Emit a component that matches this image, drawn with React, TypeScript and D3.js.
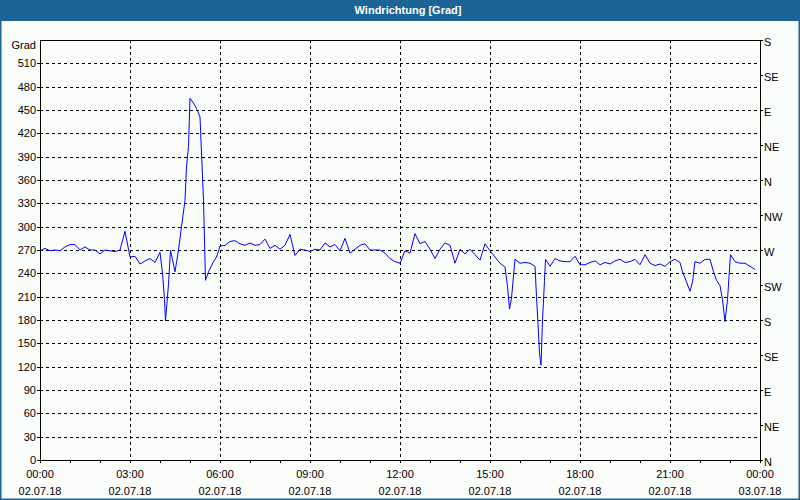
import React from "react";
import * as d3 from "d3";

// time in minutes since 00:00 on 02.07.18, wind direction in degrees
const times: number[] = [
  0, 10, 20, 30, 40, 50, 60, 70, 80, 90, 100, 110, 120, 130, 140, 150, 160, 170, 180, 190,
  200, 210, 220, 230, 240, 245, 249, 251, 257, 261, 270, 277, 283, 290, 293, 297, 300, 307, 313, 320,
  327, 331, 337, 347, 353, 360, 370, 380, 390, 400, 410, 420, 430, 440, 450, 460, 470, 480, 490, 500,
  510, 520, 530, 540, 550, 560, 570, 580, 590, 600, 610, 620, 630, 640, 650, 660, 670, 680, 690, 700,
  710, 720, 730, 740, 750, 760, 770, 780, 790, 800, 810, 820, 830, 840, 850, 860, 870, 880, 890, 900,
  910, 920, 930, 935, 939, 943, 950, 960, 970, 980, 990, 993, 997, 999, 1002, 1005, 1009, 1011, 1020, 1030,
  1040, 1050, 1060, 1070, 1080, 1090, 1100, 1110, 1120, 1130, 1140, 1150, 1160, 1170, 1180, 1190, 1200, 1210, 1220, 1230,
  1240, 1250, 1260, 1270, 1280, 1285, 1293, 1300, 1305, 1310, 1320, 1330, 1340, 1347, 1353, 1360, 1365, 1370, 1375, 1378,
  1381, 1390, 1400, 1410, 1420, 1430,
];
const degrees: number[] = [
  269, 272, 269, 270, 269, 274, 277, 277, 270, 274, 270, 270, 265, 270, 269, 268, 270, 294, 261, 262,
  252, 256, 259, 254, 267, 240, 206, 179, 226, 270, 242, 270, 300, 334, 377, 403, 465, 459, 452, 441,
  334, 231, 242, 255, 261, 275, 276, 281, 282, 278, 276, 279, 276, 277, 284, 272, 276, 271, 276, 290,
  263, 271, 270, 268, 271, 270, 279, 274, 277, 269, 285, 266, 271, 276, 278, 270, 270, 270, 266, 259,
  255, 253, 269, 266, 291, 278, 281, 271, 259, 271, 279, 276, 253, 271, 265, 271, 264, 257, 278, 269,
  261, 253, 248, 223, 194, 208, 258, 253, 254, 253, 249, 210, 163, 137, 122, 180, 231, 258, 249, 259,
  256, 255, 255, 262, 251, 251, 254, 256, 251, 254, 252, 256, 258, 254, 255, 258, 251, 264, 253, 250,
  252, 249, 255, 258, 254, 242, 229, 217, 229, 255, 253, 258, 258, 242, 231, 224, 206, 178, 206, 236,
  264, 255, 253, 253, 249, 245,
];

const leftTicks: number[] = [0, 30, 60, 90, 120, 150, 180, 210, 240, 270, 300, 330, 360, 390, 420, 450, 480, 510];
const rightTicks: number[] = [0, 45, 90, 135, 180, 225, 270, 315, 360, 405, 450, 495, 540];
const rightLabels: string[] = ["N", "NE", "E", "SE", "S", "SW", "W", "NW", "N", "NE", "E", "SE", "S"];
const timeTicks: number[] = [0, 3, 6, 9, 12, 15, 18, 21, 24];
const timeLabels: string[] = ["00:00", "03:00", "06:00", "09:00", "12:00", "15:00", "18:00", "21:00", "00:00"];
const dateLabels: string[] = ["02.07.18", "02.07.18", "02.07.18", "02.07.18", "02.07.18", "02.07.18", "02.07.18", "02.07.18", "03.07.18"];
const title = "Windrichtung [Grad]";
const unitLabel = "Grad";

const W = 800;
const H = 500;
const left = 40;
const right = 760;
const top = 40;
const bottom = 460;
const FONT = "'Liberation Sans', Arial, sans-serif";
const BLUE = "#1c6496";

export default function App() {
  const x = d3.scaleLinear().domain([0, 24]).range([left, right]);
  const y = d3.scaleLinear().domain([0, 540]).range([bottom, top]);
  const hours = d3.range(0, 25);
  const pts: [number, number][] = times.map((t, i) => [t / 60, degrees[i]]);
  const line = d3
    .line<[number, number]>()
    .x((d) => x(d[0]))
    .y((d) => y(d[1]));

  return (
    <svg
      width={W}
      height={H}
      style={{ position: "fixed", left: 0, top: 0, display: "block" }}
      fontFamily={FONT}
      fontSize={11}
    >
      <rect x={0} y={0} width={W} height={H} fill="#fbfdfb" />
      <rect x={0.5} y={0.5} width={W - 1} height={H - 1} fill="none" stroke={BLUE} strokeWidth={2} />
      <rect x={0} y={0} width={W} height={21} fill={BLUE} />
      <text x={W / 2 + 8} y={14} textAnchor="middle" fill="#ffffff" fontWeight="bold" fontSize={11}>
        {title}
      </text>

      {/* horizontal grid */}
      {leftTicks
        .filter((v) => v > 0)
        .map((v) => (
          <line
            key={"h" + v}
            x1={left}
            x2={right}
            y1={Math.round(y(v)) + 0.5}
            y2={Math.round(y(v)) + 0.5}
            stroke="#000"
            strokeDasharray="3,3"
            shapeRendering="crispEdges"
          />
        ))}
      {/* vertical grid */}
      {timeTicks
        .filter((h) => h > 0 && h < 24)
        .map((h) => (
          <line
            key={"v" + h}
            x1={Math.round(x(h)) + 0.5}
            x2={Math.round(x(h)) + 0.5}
            y1={top}
            y2={bottom}
            stroke="#000"
            strokeDasharray="3,3"
            shapeRendering="crispEdges"
          />
        ))}

      {/* frame */}
      <rect
        x={left + 0.5}
        y={top + 0.5}
        width={right - left}
        height={bottom - top}
        fill="none"
        stroke="#000"
        shapeRendering="crispEdges"
      />

      {/* left axis */}
      {leftTicks.map((v) => (
        <g key={"l" + v}>
          <line x1={left - 3} x2={left} y1={Math.round(y(v)) + 0.5} y2={Math.round(y(v)) + 0.5} stroke="#000" shapeRendering="crispEdges" />
          <text x={left - 4} y={y(v) + 4} textAnchor="end" fill="#000">
            {v}
          </text>
        </g>
      ))}
      <text x={left - 4} y={top + 9} textAnchor="end" fill="#000">
        {unitLabel}
      </text>

      {/* right axis */}
      {rightTicks.map((v, i) => (
        <g key={"r" + v}>
          <line x1={right} x2={right + 3} y1={Math.round(y(v)) + 0.5} y2={Math.round(y(v)) + 0.5} stroke="#000" shapeRendering="crispEdges" />
          <text x={right + 4} y={y(v) + 6} fill="#000">
            {rightLabels[i]}
          </text>
        </g>
      ))}

      {/* bottom axis */}
      {hours.map((h) => (
        <line
          key={"t" + h}
          x1={Math.round(x(h)) + 0.5}
          x2={Math.round(x(h)) + 0.5}
          y1={bottom}
          y2={bottom + 3}
          stroke="#000"
          shapeRendering="crispEdges"
        />
      ))}
      {timeTicks.map((h, i) => (
        <g key={"tl" + h}>
          <text x={x(h)} y={bottom + 18} textAnchor="middle" fill="#000">
            {timeLabels[i]}
          </text>
          <text x={x(h)} y={bottom + 35} textAnchor="middle" fill="#000">
            {dateLabels[i]}
          </text>
        </g>
      ))}

      <path d={line(pts) || ""} fill="none" stroke="#0000ff" strokeWidth={1} />
    </svg>
  );
}
